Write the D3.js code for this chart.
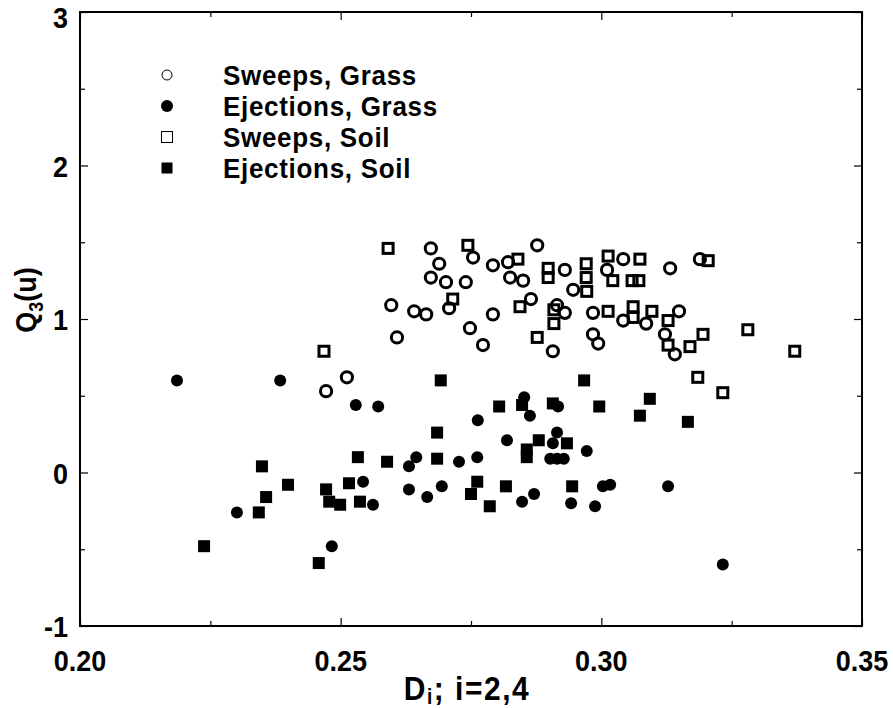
<!DOCTYPE html>
<html>
<head>
<meta charset="utf-8">
<script src="https://cdn.jsdelivr.net/npm/d3@7"></script>
<style>
  body { margin: 0; background: #fff; }
  text { font-family: "Liberation Sans", Arial, sans-serif; font-weight: bold; fill: #000; }
</style>
</head>
<body>
<div id="chart"></div>
<script>
// data: [D_i, Q3(u)]
const sweepsGrass = [
  [0.2673, 1.46], [0.2689, 1.36], [0.2754, 1.40], [0.2792, 1.35], [0.2673, 1.27],
  [0.2702, 1.24], [0.2740, 1.24], [0.2597, 1.09], [0.2641, 1.05], [0.2664, 1.03],
  [0.2708, 1.07], [0.2792, 1.03], [0.2748, 0.94], [0.2608, 0.88], [0.2773, 0.83],
  [0.2825, 1.27], [0.2850, 1.25], [0.2865, 1.13], [0.2877, 1.48], [0.2821, 1.37],
  [0.2930, 1.32], [0.2946, 1.19], [0.2915, 1.09], [0.2930, 1.04], [0.2984, 1.04],
  [0.2984, 0.90], [0.2994, 0.84], [0.2907, 0.79], [0.3011, 1.32], [0.3042, 1.39],
  [0.3132, 1.33], [0.3189, 1.39], [0.3042, 0.99], [0.3086, 0.97], [0.3149, 1.05],
  [0.3122, 0.90], [0.3141, 0.77], [0.2512, 0.62], [0.2472, 0.53]
]
const ejectionsGrass = [
  [0.2186, 0.60], [0.2384, 0.60], [0.2529, 0.44], [0.2572, 0.43], [0.2645, 0.10],
  [0.2631, 0.04], [0.2543, -0.06], [0.2631, -0.11], [0.2666, -0.16], [0.2694, -0.09],
  [0.2562, -0.21], [0.2301, -0.26], [0.2483, -0.48], [0.2852, 0.49], [0.2917, 0.43],
  [0.2863, 0.37], [0.2763, 0.34], [0.2819, 0.21], [0.2915, 0.26], [0.2907, 0.19],
  [0.2972, 0.14], [0.2727, 0.07], [0.2762, 0.10], [0.2902, 0.09], [0.2915, 0.09],
  [0.2928, 0.09], [0.2848, -0.19], [0.2871, -0.14], [0.2942, -0.20], [0.2988, -0.22],
  [0.3003, -0.09], [0.3017, -0.08], [0.3128, -0.09], [0.3233, -0.60]
]
const sweepsSoil = [
  [0.2591, 1.46], [0.2744, 1.48], [0.2840, 1.39], [0.2715, 1.13], [0.2844, 1.08],
  [0.2468, 0.79], [0.2877, 0.88], [0.2898, 1.33], [0.2898, 1.27], [0.2971, 1.36],
  [0.2971, 1.27], [0.2972, 1.18], [0.3013, 1.41], [0.3022, 1.25], [0.3059, 1.25],
  [0.3072, 1.25], [0.3074, 1.39], [0.3205, 1.38], [0.2909, 1.06], [0.2909, 0.97],
  [0.3013, 1.05], [0.3061, 1.08], [0.3061, 1.01], [0.3097, 1.05], [0.3128, 0.99],
  [0.3195, 0.90], [0.3170, 0.82], [0.3128, 0.83], [0.3281, 0.93], [0.3371, 0.79],
  [0.3185, 0.62], [0.3233, 0.52]
]
const ejectionsSoil = [
  [0.2692, 0.60], [0.2967, 0.60], [0.2685, 0.26], [0.2533, 0.10], [0.2589, 0.07],
  [0.2685, 0.09], [0.2349, 0.04], [0.2399, -0.08], [0.2357, -0.16], [0.2472, -0.11],
  [0.2516, -0.07], [0.2478, -0.19], [0.2499, -0.21], [0.2537, -0.19], [0.2343, -0.26],
  [0.2238, -0.48], [0.2458, -0.59], [0.2804, 0.43], [0.2848, 0.44], [0.2907, 0.45],
  [0.2996, 0.43], [0.3093, 0.48], [0.3074, 0.37], [0.3166, 0.33], [0.2880, 0.21],
  [0.2857, 0.15], [0.2857, 0.10], [0.2934, 0.19], [0.2762, -0.06], [0.2750, -0.14],
  [0.2817, -0.09], [0.2786, -0.22], [0.2944, -0.09]
]
const xTicks = [0.20, 0.25, 0.30, 0.35]
const xMinor = [0.225, 0.275, 0.325]
const yTicks = [-1, 0, 1, 2, 3]
const yMinor = [-0.5, 0.5, 1.5, 2.5]
const legendLabels = ["Sweeps, Grass", "Ejections, Grass", "Sweeps, Soil", "Ejections, Soil"]

const W = 893, H = 708
const margin = {top: 12, right: 31, bottom: 82, left: 80}
const width = W - margin.left - margin.right
const height = H - margin.top - margin.bottom
const stretch = 1.12   // the printed font is taller than Liberation Sans

const svg = d3.select("#chart").append("svg")
    .attr("width", W).attr("height", H)
  .append("g")
    .attr("transform", `translate(${margin.left},${margin.top})`)

const x = d3.scaleLinear().domain([0.20, 0.35]).range([0, width])
const y = d3.scaleLinear().domain([-1, 3]).range([height, 0])

// ticks point inward on all four sides
function ticks(axis, vals, size, tr) {
  const g = svg.append("g").attr("transform", tr)
    .call(axis.tickValues(vals).tickSize(size).tickSizeOuter(0).tickFormat(""))
  g.select(".domain").remove()
  g.selectAll("line").attr("stroke", "#000").attr("stroke-width", 1.2)
  return g
}
ticks(d3.axisBottom(x), xTicks, -8, `translate(0,${height})`)
ticks(d3.axisBottom(x), xMinor, -5, `translate(0,${height})`)
ticks(d3.axisTop(x), xTicks, -8, "translate(0,0)")
ticks(d3.axisTop(x), xMinor, -5, "translate(0,0)")
ticks(d3.axisLeft(y), yTicks, -8, "translate(0,0)")
ticks(d3.axisLeft(y), yMinor, -5, "translate(0,0)")
ticks(d3.axisRight(y), yTicks, -8, `translate(${width},0)`)
ticks(d3.axisRight(y), yMinor, -5, `translate(${width},0)`)

svg.append("rect")
  .attr("width", width).attr("height", height)
  .attr("fill", "none").attr("stroke", "#000").attr("stroke-width", 2)

// tick labels
svg.append("g").selectAll("text").data(xTicks).join("text")
  .attr("transform", d => `translate(${x(d)},${height + 45}) scale(1,${stretch})`)
  .attr("text-anchor", "middle").style("font-size", "27px")
  .text(d => d3.format(".2f")(d))
svg.append("g").selectAll("text").data(yTicks).join("text")
  .attr("transform", d => `translate(-12,${y(d) + (d === 3 ? 16 : 11)}) scale(1,${stretch})`)
  .attr("text-anchor", "end").style("font-size", "27px")
  .text(d => d)

// axis titles
const xt = svg.append("text")
  .attr("transform", `translate(${width / 2 - 4},${height + 74}) scale(1,${stretch})`)
  .attr("text-anchor", "middle").style("font-size", "30px").style("letter-spacing", "1.5px")
xt.append("tspan").text("D")
xt.append("tspan").text("i").style("font-size", "19px").attr("dy", 4)
xt.append("tspan").text("; i=2,4").attr("dy", -4)

const yt = svg.append("text")
  .attr("transform", `translate(${-44},${300 - margin.top}) rotate(-90) scale(1,${stretch})`)
  .attr("text-anchor", "middle").style("font-size", "27px")
yt.append("tspan").text("Q")
yt.append("tspan").text("3").style("font-size", "18px").attr("dy", 6)
yt.append("tspan").text("(u)").attr("dy", -6)

// markers
const sq = 10
svg.append("g").selectAll("circle").data(sweepsGrass).join("circle")
  .attr("cx", d => x(d[0])).attr("cy", d => y(d[1])).attr("r", 5.6)
  .attr("fill", "none").attr("stroke", "#000").attr("stroke-width", 3)
svg.append("g").selectAll("rect").data(sweepsSoil).join("rect")
  .attr("x", d => x(d[0]) - sq / 2).attr("y", d => y(d[1]) - sq / 2)
  .attr("width", sq).attr("height", sq)
  .attr("fill", "none").attr("stroke", "#000").attr("stroke-width", 3)
svg.append("g").selectAll("circle").data(ejectionsGrass).join("circle")
  .attr("cx", d => x(d[0])).attr("cy", d => y(d[1])).attr("r", 6)
  .attr("fill", "#000")
svg.append("g").selectAll("rect").data(ejectionsSoil).join("rect")
  .attr("x", d => x(d[0]) - 6).attr("y", d => y(d[1]) - 6)
  .attr("width", 12).attr("height", 12)
  .attr("fill", "#000")

// legend
const leg = svg.append("g").attr("transform", `translate(${167 - margin.left},${75 - margin.top})`)
const rowH = 31
leg.append("circle").attr("cx", 0).attr("cy", 0).attr("r", 5)
  .attr("fill", "none").attr("stroke", "#000").attr("stroke-width", 1)
leg.append("circle").attr("cx", 0).attr("cy", rowH).attr("r", 6).attr("fill", "#000")
leg.append("rect").attr("x", -5.5).attr("y", rowH * 2 - 5.5).attr("width", 11).attr("height", 11)
  .attr("fill", "none").attr("stroke", "#000").attr("stroke-width", 1)
leg.append("rect").attr("x", -5.5).attr("y", rowH * 3 - 5.5).attr("width", 11).attr("height", 11)
  .attr("fill", "#000")
leg.selectAll("text.lab").data(legendLabels).join("text")
  .attr("class", "lab")
  .attr("transform", (d, i) => `translate(56,${i * rowH + 10}) scale(1,1.05)`)
  .style("font-size", "26px").style("letter-spacing", "0.7px")
  .text(d => d)
</script>
</body>
</html>
